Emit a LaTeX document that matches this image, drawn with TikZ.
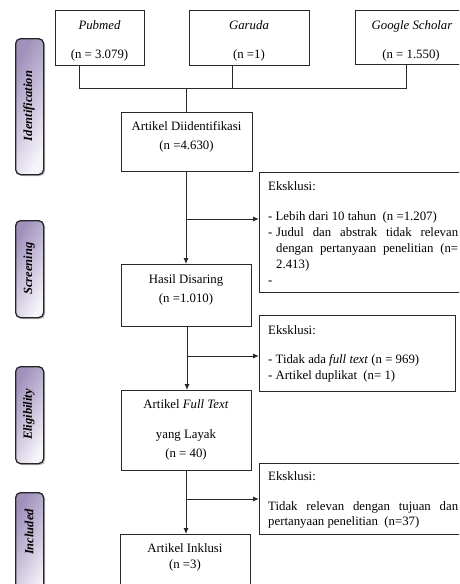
\documentclass[tikz,border=0pt]{standalone}
\usepackage{fontspec}
\setmainfont{Liberation Serif}
\usetikzlibrary{arrows.meta,shadows,calc}
\definecolor{lineC}{RGB}{40,40,40}
\definecolor{labLight}{RGB}{246,243,250}
\definecolor{labDark}{RGB}{160,145,188}
\tikzset{
  box/.style={draw=lineC, line width=0.9pt, inner sep=0pt, anchor=north west},
  conn/.style={draw=lineC, line width=0.9pt},
  arr/.style={conn, -{Latex[length=6pt,width=5pt]}},
  txt/.style={inner sep=0pt, anchor=base, font=\fontsize{12.8}{15}\selectfont},
  ltxt/.style={txt, anchor=base west},
  stage/.style={draw=black!85, line width=1.3pt, rounded corners=5pt, inner sep=0pt, anchor=north west,
     shading=axis, left color=labDark, right color=labLight, shading angle=60,
     drop shadow={shadow xshift=1.5pt, shadow yshift=-1.5pt, opacity=0.5}},
  stxt/.style={inner sep=0pt, rotate=90, font=\fontsize{12.5}{14}\selectfont\bfseries\itshape}
}
\begin{document}
\begin{tikzpicture}[x=1pt,y=-1pt]
\useasboundingbox (0,0) rectangle (459,584);
\clip (0,0) rectangle (459,584);
% stage labels
\node[stage, minimum width=28pt, minimum height=136pt] (sid) at (15,38) {};
\node[stxt] (tid) at (29,106) {Identification};
\node[stage, minimum width=28pt, minimum height=97pt] (ssc) at (15,220) {};
\node[stxt] (tsc) at (29,268.5) {Screening};
\node[stage, minimum width=28pt, minimum height=97pt] (sel) at (15,366) {};
\node[stxt] (tel) at (29,414.5) {Eligibility};
\node[stage, minimum width=28pt, minimum height=110pt] (sin) at (15,492) {};
\node[stxt] (tin) at (29,532) {Included};
% source boxes
\node[box, minimum width=89pt, minimum height=55pt] (pub) at (55,10) {};
\node[txt] (pubt) at (99.5,29) {\itshape Pubmed};
\node[txt] (pubn) at (99.5,58) {(n = 3.079)};
\node[box, minimum width=120pt, minimum height=55pt] (gar) at (189,10) {};
\node[txt] (gart) at (249,29) {\itshape Garuda};
\node[txt] (garn) at (249,58) {(n =1)};
\node[box, minimum width=112pt, minimum height=54pt] (gs) at (355,10) {};
\node[txt] (gst) at (412,29) {\itshape Google Scholar};
\node[txt] (gsn) at (411,58) {(n = 1.550)};
% main boxes
\node[box, minimum width=131pt, minimum height=59pt] (aid) at (121,112) {};
\node[txt] (aidt) at (186.5,130) {Artikel Diidentifikasi};
\node[txt] (aidn) at (186.5,149) {(n =4.630)};
\node[box, minimum width=130pt, minimum height=62pt] (hd) at (121,264) {};
\node[txt] (hdt) at (186,283) {Hasil Disaring};
\node[txt] (hdn) at (186,302) {(n =1.010)};
\node[box, minimum width=130pt, minimum height=80pt] (ft) at (121,390) {};
\node[txt] (ftt) at (186,408) {Artikel \textit{Full Text}};
\node[txt] (fty) at (186,438) {yang Layak};
\node[txt] (ftn) at (186,457) {(n = 40)};
\node[box, minimum width=130pt, minimum height=70pt] (ink) at (120,534) {};
\node[txt] (inkt) at (185,552) {Artikel Inklusi};
\node[txt] (inkn) at (185,568) {(n =3)};
% exclusion boxes
\node[box, minimum width=207pt, minimum height=120pt] (ex1) at (259,172) {};
\node[ltxt] (e1a) at (268,190) {Eksklusi:};
\node[ltxt] (e1b) at (268,220) {- Lebih dari 10 tahun \ (n =1.207)};
\node[ltxt] (e1c) at (268,236) {-};
\node[ltxt] (e1c2) at (276,236) {\makebox[182pt][s]{Judul dan abstrak tidak relevan}};
\node[ltxt] (e1d) at (276,252) {\makebox[182pt][s]{dengan pertanyaan penelitian (n=}};
\node[ltxt] (e1e) at (276,268) {2.413)};
\node[ltxt] (e1f) at (268,284) {-};
\node[box, minimum width=196pt, minimum height=76pt] (ex2) at (259,315) {};
\node[ltxt] (e2a) at (268,334) {Eksklusi:};
\node[ltxt] (e2b) at (268,363) {- Tidak ada \textit{full text} (n = 969)};
\node[ltxt] (e2c) at (268,379) {- Artikel duplikat \ (n= 1)};
\node[box, minimum width=207pt, minimum height=71pt] (ex3) at (259,463) {};
\node[ltxt] (e3a) at (268,480) {Eksklusi:};
\node[ltxt] (e3b) at (268,510) {\makebox[190pt][s]{Tidak relevan dengan tujuan dan}};
\node[ltxt] (e3c) at (268,525) {pertanyaan penelitian \ (n=37)};
% connectors
\coordinate (jp) at (79,88);
\coordinate (jg) at (232,88);
\coordinate (js) at (406,88);
\coordinate (jm) at (186,88);
\draw[conn] (pub.south -| jp) -- (jp);
\draw[conn] (gar.south -| jg) -- (jg);
\draw[conn] (gs.south -| js) -- (js) -- (jp);
\draw[conn] (jm) -- (aid.north -| jm);
\coordinate (b1) at (186,219);
\draw[arr] (aid.south -| b1) -- (hd.north -| b1);
\draw[arr] (b1) -- (ex1.west |- b1);
\coordinate (b2) at (187,356);
\draw[arr] (hd.south -| b2) -- (ft.north -| b2);
\draw[arr] (b2) -- (ex2.west |- b2);
\coordinate (b3) at (186,499);
\draw[arr] (ft.south -| b3) -- (ink.north -| b3);
\draw[arr] (b3) -- (ex3.west |- b3);
\end{tikzpicture}
\end{document}
